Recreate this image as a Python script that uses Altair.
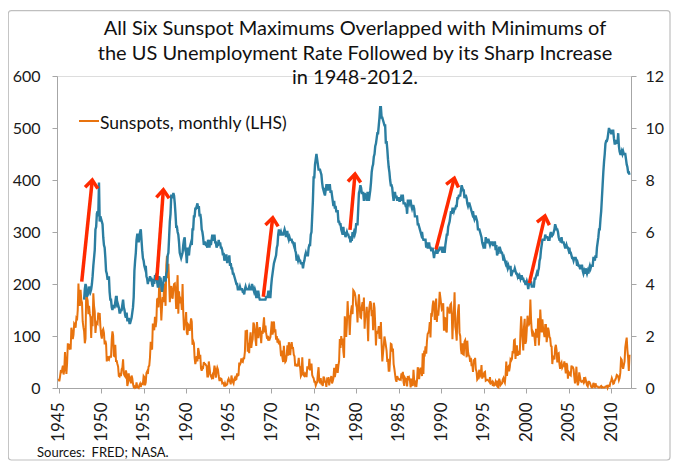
import math
import altair as alt
import pandas as pd

# ---------------- data (monthly) ----------------
# Sunspot number, monthly, Jan 1945 ...
sun_1940s = [
    18, 13, 22, 32, 31, 36, 43, 26, 35, 69, 46, 27,
    48, 86, 77, 76, 85, 74, 116, 107, 94, 102, 124, 122,
    116, 133, 130, 150, 201, 164, 158, 189, 169, 164, 128, 117,
    109, 86, 95, 190, 174, 168, 142, 158, 143, 136, 96, 138,
    119, 182, 158, 147, 106, 122, 126, 124, 145, 132, 144, 118,
]
sun_1950s = [
    102, 95, 110, 113, 106, 84, 91, 85, 51, 61, 55, 54,
    60, 60, 60, 93, 109, 101, 62, 61, 83, 52, 52, 46,
    41, 23, 22, 29, 23, 36, 39, 55, 28, 24, 22, 34,
    27, 4, 10, 28, 13, 22, 9, 24, 19, 8, 2, 3,
    0, 1, 11, 2, 1, 0, 5, 8, 2, 7, 9, 8,
    23, 21, 5, 11, 29, 32, 27, 41, 43, 59, 89, 77,
    74, 124, 118, 111, 137, 117, 129, 170, 173, 155, 201, 192,
    165, 130, 157, 175, 165, 201, 187, 158, 236, 254, 211, 239,
    203, 165, 191, 196, 175, 172, 191, 200, 201, 182, 152, 188,
    217, 143, 186, 163, 172, 169, 150, 200, 145, 111, 124, 125,
]
sun_1960s = [
    146, 106, 102, 122, 120, 110, 122, 134, 127, 83, 90, 86,
    58, 46, 53, 61, 51, 77, 70, 56, 64, 38, 33, 40,
    39, 50, 46, 46, 44, 42, 22, 22, 51, 40, 27, 23,
    20, 24, 17, 29, 43, 36, 20, 33, 39, 35, 23, 15,
    15, 18, 17, 9, 10, 9, 3, 9, 5, 6, 7, 15,
    18, 14, 12, 7, 24, 16, 12, 9, 17, 20, 16, 17,
    28, 24, 25, 49, 45, 48, 57, 51, 50, 57, 57, 70,
    111, 94, 112, 70, 87, 67, 92, 107, 77, 88, 94, 126,
    122, 112, 92, 81, 127, 110, 96, 109, 117, 108, 86, 110,
    104, 121, 136, 107, 120, 106, 97, 98, 91, 96, 94, 98,
]
sun_1970s = [
    112, 128, 103, 110, 128, 107, 113, 93, 100, 87, 95, 84,
    91, 79, 61, 72, 58, 50, 81, 61, 50, 52, 63, 82,
    62, 88, 80, 63, 81, 88, 77, 77, 64, 61, 42, 45,
    43, 43, 46, 58, 42, 40, 23, 26, 59, 31, 24, 23,
    28, 26, 21, 40, 40, 36, 56, 34, 40, 47, 25, 21,
    19, 12, 12, 5, 9, 11, 28, 40, 14, 9, 19, 8,
    8, 4, 22, 19, 12, 12, 2, 16, 14, 21, 5, 15,
    16, 23, 9, 13, 19, 39, 21, 30, 44, 44, 29, 43,
    52, 94, 77, 100, 83, 95, 70, 58, 138, 125, 98, 123,
    167, 138, 138, 102, 134, 150, 159, 142, 188, 186, 183, 176,
]
sun_1980s = [
    160, 155, 126, 164, 180, 157, 136, 135, 155, 165, 148, 174,
    114, 141, 136, 156, 128, 90, 144, 159, 167, 162, 138, 150,
    111, 164, 154, 122, 82, 110, 106, 108, 119, 95, 98, 127,
    84, 51, 67, 81, 99, 91, 82, 72, 50, 56, 33, 33,
    57, 85, 84, 70, 76, 46, 37, 26, 16, 12, 23, 19,
    17, 16, 17, 16, 28, 24, 31, 11, 4, 19, 16, 17,
    3, 23, 15, 19, 14, 1, 18, 7, 4, 35, 15, 7,
    10, 2, 15, 40, 33, 17, 34, 39, 33, 23, 67, 27,
    67, 65, 80, 66, 90, 104, 106, 111, 127, 97, 141, 140,
    158, 168, 161, 131, 155, 172, 127, 149, 139, 157, 185, 174,
]
sun_1990s = [
    162, 151, 153, 163, 110, 135, 134, 110, 107, 156, 151, 151,
    143, 160, 162, 146, 94, 134, 145, 184, 118, 109, 91, 134,
    150, 161, 106, 100, 74, 65, 86, 65, 64, 89, 92, 83,
    59, 91, 70, 62, 61, 50, 58, 42, 46, 31, 55, 49,
    58, 36, 32, 16, 18, 28, 35, 23, 26, 44, 18, 26,
    24, 30, 31, 14, 15, 16, 15, 14, 12, 21, 9, 10,
    12, 4, 9, 5, 6, 12, 8, 14, 2, 1, 18, 13,
    6, 8, 9, 16, 19, 13, 10, 24, 51, 23, 39, 41,
    32, 40, 55, 53, 56, 71, 67, 92, 93, 56, 74, 82,
    62, 66, 69, 64, 106, 138, 114, 94, 72, 117, 133, 85,
]
sun_2000s = [
    90, 113, 139, 126, 122, 125, 170, 131, 110, 99, 107, 104,
    96, 81, 114, 108, 97, 134, 82, 106, 151, 126, 107, 132,
    114, 107, 98, 121, 121, 88, 100, 116, 110, 98, 96, 81,
    80, 46, 61, 60, 55, 77, 83, 73, 49, 66, 67, 47,
    37, 46, 49, 39, 42, 43, 51, 41, 28, 48, 44, 18,
    31, 29, 25, 24, 43, 40, 40, 36, 22, 9, 18, 41,
    15, 5, 11, 30, 22, 14, 12, 13, 14, 11, 21, 14,
    17, 11, 5, 3, 12, 12, 10, 6, 2, 1, 2, 10,
    3, 2, 9, 3, 3, 3, 1, 1, 1, 3, 4, 1,
    2, 1, 1, 1, 3, 3, 4, 0, 4, 5, 4, 11,
]
sun_2010s = [
    13, 19, 15, 8, 9, 14, 16, 20, 25, 24, 22, 15,
    19, 29, 56, 54, 42, 37, 44, 51, 78, 88, 97, 73,
    58, 33, 64,
]

# US unemployment rate (%), monthly, Jan 1948 ...
unemp_1940s = [
    3.4, 3.8, 4.0, 3.9, 3.5, 3.6, 3.6, 3.9, 3.8, 3.7, 3.8, 4.0,
    4.3, 4.7, 5.0, 5.3, 6.1, 6.2, 6.7, 6.8, 6.6, 7.9, 6.4, 6.6,
]
unemp_1950s = [
    6.5, 6.4, 6.3, 5.8, 5.5, 5.4, 5.0, 4.5, 4.4, 4.2, 4.2, 4.3,
    3.7, 3.4, 3.4, 3.1, 3.0, 3.2, 3.1, 3.1, 3.3, 3.5, 3.5, 3.1,
    3.2, 3.1, 2.9, 2.9, 3.0, 3.0, 3.2, 3.4, 3.1, 3.0, 2.8, 2.7,
    2.9, 2.6, 2.6, 2.7, 2.5, 2.5, 2.6, 2.7, 2.9, 3.1, 3.5, 4.5,
    4.9, 5.2, 5.7, 5.9, 5.9, 5.6, 5.8, 6.0, 6.1, 5.7, 5.3, 5.0,
    4.9, 4.7, 4.6, 4.7, 4.3, 4.2, 4.0, 4.2, 4.1, 4.3, 4.2, 4.2,
    4.0, 3.9, 4.2, 4.0, 4.3, 4.3, 4.4, 4.1, 3.9, 3.9, 4.3, 4.2,
    4.2, 3.9, 3.7, 3.9, 4.1, 4.3, 4.2, 4.1, 4.4, 4.5, 5.1, 5.2,
    5.8, 6.4, 6.7, 7.4, 7.4, 7.3, 7.5, 7.4, 7.1, 6.7, 6.2, 6.2,
    6.0, 5.9, 5.6, 5.2, 5.1, 5.0, 5.1, 5.2, 5.5, 5.7, 5.8, 5.3,
]
unemp_1960s = [
    5.2, 4.8, 5.4, 5.2, 5.1, 5.4, 5.5, 5.6, 5.5, 6.1, 6.1, 6.6,
    6.6, 6.9, 6.9, 7.0, 7.1, 6.9, 7.0, 6.6, 6.7, 6.5, 6.1, 6.0,
    5.8, 5.5, 5.6, 5.6, 5.5, 5.5, 5.4, 5.7, 5.6, 5.4, 5.7, 5.5,
    5.7, 5.9, 5.7, 5.7, 5.9, 5.6, 5.6, 5.4, 5.5, 5.5, 5.7, 5.5,
    5.6, 5.4, 5.4, 5.3, 5.1, 5.2, 4.9, 5.0, 5.1, 5.1, 4.8, 5.0,
    4.9, 5.1, 4.7, 4.8, 4.6, 4.6, 4.4, 4.4, 4.3, 4.2, 4.1, 4.0,
    4.0, 3.8, 3.8, 3.8, 3.9, 3.8, 3.8, 3.8, 3.7, 3.7, 3.6, 3.8,
    3.9, 3.8, 3.8, 3.8, 3.8, 3.9, 3.8, 3.8, 3.8, 4.0, 3.9, 3.8,
    3.7, 3.8, 3.7, 3.5, 3.5, 3.7, 3.7, 3.5, 3.4, 3.4, 3.4, 3.4,
    3.4, 3.4, 3.4, 3.4, 3.4, 3.5, 3.5, 3.5, 3.7, 3.7, 3.5, 3.5,
]
unemp_1970s = [
    3.9, 4.2, 4.4, 4.6, 4.8, 4.9, 5.0, 5.1, 5.4, 5.5, 5.9, 6.1,
    5.9, 5.9, 6.0, 5.9, 5.9, 5.9, 6.0, 6.1, 6.0, 5.8, 6.0, 6.0,
    5.8, 5.7, 5.8, 5.7, 5.7, 5.7, 5.6, 5.6, 5.5, 5.6, 5.3, 5.2,
    4.9, 5.0, 4.9, 5.0, 4.9, 4.9, 4.8, 4.8, 4.8, 4.6, 4.8, 4.9,
    5.1, 5.2, 5.1, 5.1, 5.1, 5.4, 5.5, 5.5, 5.9, 6.0, 6.6, 7.2,
    8.1, 8.1, 8.6, 8.8, 9.0, 8.8, 8.6, 8.4, 8.4, 8.4, 8.3, 8.2,
    7.9, 7.7, 7.6, 7.7, 7.4, 7.6, 7.8, 7.8, 7.6, 7.7, 7.8, 7.8,
    7.5, 7.6, 7.4, 7.2, 7.0, 7.2, 6.9, 7.0, 6.8, 6.8, 6.8, 6.4,
    6.4, 6.3, 6.3, 6.1, 6.0, 5.9, 6.2, 5.9, 6.0, 5.8, 5.9, 6.0,
    5.9, 5.9, 5.8, 5.8, 5.6, 5.7, 5.7, 6.0, 5.9, 6.0, 5.9, 6.0,
]
unemp_1980s = [
    6.3, 6.3, 6.3, 6.9, 7.5, 7.6, 7.8, 7.7, 7.5, 7.5, 7.5, 7.2,
    7.5, 7.4, 7.4, 7.2, 7.5, 7.5, 7.2, 7.4, 7.6, 7.9, 8.3, 8.5,
    8.6, 8.9, 9.0, 9.3, 9.4, 9.6, 9.8, 9.8, 10.1, 10.4, 10.8, 10.8,
    10.4, 10.4, 10.3, 10.2, 10.1, 10.1, 9.4, 9.5, 9.2, 8.8, 8.5, 8.3,
    8.0, 7.8, 7.8, 7.7, 7.4, 7.2, 7.5, 7.5, 7.3, 7.4, 7.2, 7.3,
    7.3, 7.2, 7.2, 7.3, 7.2, 7.4, 7.4, 7.1, 7.1, 7.1, 7.0, 7.0,
    6.7, 7.2, 7.2, 7.1, 7.2, 7.2, 7.0, 6.9, 7.0, 7.0, 6.9, 6.6,
    6.6, 6.6, 6.6, 6.3, 6.3, 6.2, 6.1, 6.0, 5.9, 6.0, 5.8, 5.7,
    5.7, 5.7, 5.7, 5.4, 5.6, 5.4, 5.4, 5.6, 5.4, 5.4, 5.3, 5.3,
    5.4, 5.2, 5.0, 5.2, 5.2, 5.3, 5.2, 5.2, 5.3, 5.3, 5.4, 5.4,
]
unemp_1990s = [
    5.4, 5.3, 5.2, 5.4, 5.4, 5.2, 5.5, 5.7, 5.9, 5.9, 6.2, 6.3,
    6.4, 6.6, 6.8, 6.7, 6.9, 6.9, 6.8, 6.9, 6.9, 7.0, 7.0, 7.3,
    7.3, 7.4, 7.4, 7.4, 7.6, 7.8, 7.7, 7.6, 7.6, 7.3, 7.4, 7.4,
    7.3, 7.1, 7.0, 7.1, 7.1, 7.0, 6.9, 6.8, 6.7, 6.8, 6.6, 6.5,
    6.6, 6.6, 6.5, 6.4, 6.1, 6.1, 6.1, 6.0, 5.9, 5.8, 5.6, 5.5,
    5.6, 5.4, 5.4, 5.8, 5.6, 5.6, 5.7, 5.7, 5.6, 5.5, 5.6, 5.6,
    5.6, 5.5, 5.5, 5.6, 5.6, 5.3, 5.5, 5.1, 5.2, 5.2, 5.4, 5.4,
    5.3, 5.2, 5.2, 5.1, 4.9, 5.0, 4.9, 4.8, 4.9, 4.7, 4.6, 4.7,
    4.6, 4.6, 4.7, 4.3, 4.4, 4.5, 4.5, 4.5, 4.6, 4.5, 4.4, 4.4,
    4.3, 4.4, 4.2, 4.3, 4.2, 4.3, 4.3, 4.2, 4.2, 4.1, 4.1, 4.0,
]
unemp_2000s = [
    4.0, 4.1, 4.0, 3.8, 4.0, 4.0, 4.0, 4.1, 3.9, 3.9, 3.9, 3.9,
    4.2, 4.2, 4.3, 4.4, 4.3, 4.5, 4.6, 4.9, 5.0, 5.3, 5.5, 5.7,
    5.7, 5.7, 5.7, 5.9, 5.8, 5.8, 5.8, 5.7, 5.7, 5.7, 5.9, 6.0,
    5.8, 5.9, 5.9, 6.0, 6.1, 6.3, 6.2, 6.1, 6.1, 6.0, 5.8, 5.7,
    5.7, 5.6, 5.8, 5.6, 5.6, 5.6, 5.5, 5.4, 5.4, 5.5, 5.4, 5.4,
    5.3, 5.4, 5.2, 5.2, 5.1, 5.0, 5.0, 4.9, 5.0, 5.0, 5.0, 4.9,
    4.7, 4.8, 4.7, 4.7, 4.6, 4.6, 4.7, 4.7, 4.5, 4.4, 4.5, 4.4,
    4.6, 4.5, 4.4, 4.5, 4.4, 4.6, 4.7, 4.6, 4.7, 4.7, 4.7, 5.0,
    5.0, 4.9, 5.1, 5.0, 5.4, 5.6, 5.8, 6.1, 6.1, 6.5, 6.8, 7.3,
    7.8, 8.3, 8.7, 9.0, 9.4, 9.5, 9.5, 9.6, 9.8, 10.0, 9.9, 9.9,
]
unemp_2010s = [
    9.8, 9.8, 9.9, 9.9, 9.6, 9.4, 9.4, 9.5, 9.5, 9.4, 9.8, 9.3,
    9.1, 9.0, 9.0, 9.1, 9.0, 9.1, 9.0, 9.0, 9.0, 8.8, 8.6, 8.5,
    8.3, 8.3, 8.2,
]

# Red arrows (annotation): from (year, rate) to (year, rate)
arrow_x1 = [1947.72, 1956.54, 1969.08, 1979.28, 1989.40, 2000.38]
arrow_y1 = [4.09, 4.15, 3.51, 6.08, 5.33, 4.03]
arrow_x2 = [1948.96, 1957.32, 1970.19, 1979.87, 1991.55, 2002.22]
arrow_y2 = [8.00, 7.62, 6.55, 8.23, 8.07, 6.62]

year_ticks = list(range(1945, 2011, 5))
left_ticks = [0, 100, 200, 300, 400, 500, 600]
right_ticks = [0, 2, 4, 6, 8, 10, 12]

title_lines = [
    "All Six Sunspot Maximums Overlapped with Minimums of",
    "the US Unemployment Rate Followed by its Sharp Increase",
    "in 1948-2012.",
]
legend_label = "Sunspots, monthly (LHS)"
source_label = "Sources:\u00a0\u00a0FRED; NASA."

# ---------------- build ----------------
W, H = 574, 312
X0, X1 = 1944.81, 2012.34
FONT = "Lato"
BLUE = "#2B7EA1"
ORANGE = "#E8730E"
RED = "#FF2A00"
AXIS_GRAY = "#A6A6A6"

sun = sun_1940s + sun_1950s + sun_1960s + sun_1970s + sun_1980s + sun_1990s + sun_2000s + sun_2010s
unemp = unemp_1940s + unemp_1950s + unemp_1960s + unemp_1970s + unemp_1980s + unemp_1990s + unemp_2000s + unemp_2010s

sun_df = pd.DataFrame({"t": [1945 + i / 12 for i in range(len(sun))], "v": sun})
un_df = pd.DataFrame({"t": [1948 + i / 12 for i in range(len(unemp))], "v": unemp})

px_yr = W / (X1 - X0)
px_u = H / 12
angles = [
    math.degrees(math.atan2((b - a) * px_yr, (d - c) * px_u))
    for a, b, c, d in zip(arrow_x1, arrow_x2, arrow_y1, arrow_y2)
]
arr_df = pd.DataFrame({"x1": arrow_x1, "y1": arrow_y1, "x2": arrow_x2, "y2": arrow_y2, "ang": angles})

xscale = alt.Scale(domain=[X0, X1], nice=False, zero=False)
xaxis = alt.Axis(values=year_ticks, format="d", labelAngle=270, tickSize=5, labelPadding=9,
                 grid=False, title=None, domainColor=AXIS_GRAY, tickColor=AXIS_GRAY,
                 labelFont=FONT, labelFontSize=17, labelColor="#1a1a1a")

sun_line = alt.Chart(sun_df).mark_line(color=ORANGE, strokeWidth=2).encode(
    x=alt.X("t:Q", scale=xscale, axis=xaxis),
    y=alt.Y("v:Q", scale=alt.Scale(domain=[0, 600], nice=False),
            axis=alt.Axis(values=left_ticks, grid=False, title=None, tickSize=5, labelPadding=12,
                          domainColor=AXIS_GRAY, tickColor=AXIS_GRAY, labelFont=FONT,
                          labelFontSize=16, labelColor="#1a1a1a", orient="left")),
)

un_line = alt.Chart(un_df).mark_line(color=BLUE, strokeWidth=2.4).encode(
    x=alt.X("t:Q", scale=xscale),
    y=alt.Y("v:Q", scale=alt.Scale(domain=[0, 12], nice=False),
            axis=alt.Axis(values=right_ticks, grid=False, title=None, tickSize=5, labelPadding=9,
                          domainColor=AXIS_GRAY, tickColor=AXIS_GRAY, labelFont=FONT,
                          labelFontSize=16, labelColor="#1a1a1a", orient="right")),
)

arrow_lines = alt.Chart(arr_df).mark_rule(color=RED, strokeWidth=3.5).encode(
    x=alt.X("x1:Q", scale=xscale),
    x2="x2:Q",
    y=alt.Y("y1:Q", scale=alt.Scale(domain=[0, 12], nice=False), axis=None),
    y2="y2:Q",
)

chevron = "M-0.8,1L0,0L0.8,1"
arrow_heads = alt.Chart(arr_df).mark_point(
    shape=chevron, filled=False, stroke=RED, strokeWidth=3.5, size=256, opacity=1, strokeJoin="miter"
).encode(
    x=alt.X("x2:Q", scale=xscale),
    y=alt.Y("y2:Q", scale=alt.Scale(domain=[0, 12], nice=False), axis=None),
    angle=alt.Angle("ang:Q", scale=None),
)

one = pd.DataFrame({"k": [0]})

border = alt.Chart(one).mark_rect(fillOpacity=0, stroke="#BFBFBF", strokeWidth=1.2, cornerRadius=3).encode(
    x=alt.value(-48.7), x2=alt.value(613), y=alt.value(-65.3), y2=alt.value(384)
)

title_y = [-41, -16, 8]
title_layers = [
    alt.Chart(one).mark_text(font=FONT, fontSize=20, color="#111111", align="center",
                             baseline="alphabetic").encode(
        x=alt.value(298), y=alt.value(yy), text=alt.value(line))
    for line, yy in zip(title_lines, title_y)
]

legend_rule = alt.Chart(one).mark_rule(color=ORANGE, strokeWidth=2).encode(
    x=alt.value(22), x2=alt.value(42), y=alt.value(45)
)
legend_text = alt.Chart(one).mark_text(font=FONT, fontSize=17.5, color="#111111", align="left",
                                        baseline="alphabetic").encode(
    x=alt.value(43), y=alt.value(53), text=alt.value(legend_label)
)
source_text = alt.Chart(one).mark_text(font=FONT, fontSize=13, color="#111111", align="left",
                                        baseline="alphabetic").encode(
    x=alt.value(-20), y=alt.value(381), text=alt.value(source_label)
)

chart = alt.layer(
    border, sun_line, un_line, arrow_lines, arrow_heads,
    legend_rule, legend_text, source_text, *title_layers
).resolve_scale(y="independent").properties(
    width=W, height=H,
    autosize=alt.AutoSizeParams(type="none"),
    padding={"left": 49, "top": 68, "right": 40, "bottom": 76},
).configure_view(stroke=None).configure(background="white")

chart.save("out.html", embed_options={"renderer": "svg", "actions": False})
